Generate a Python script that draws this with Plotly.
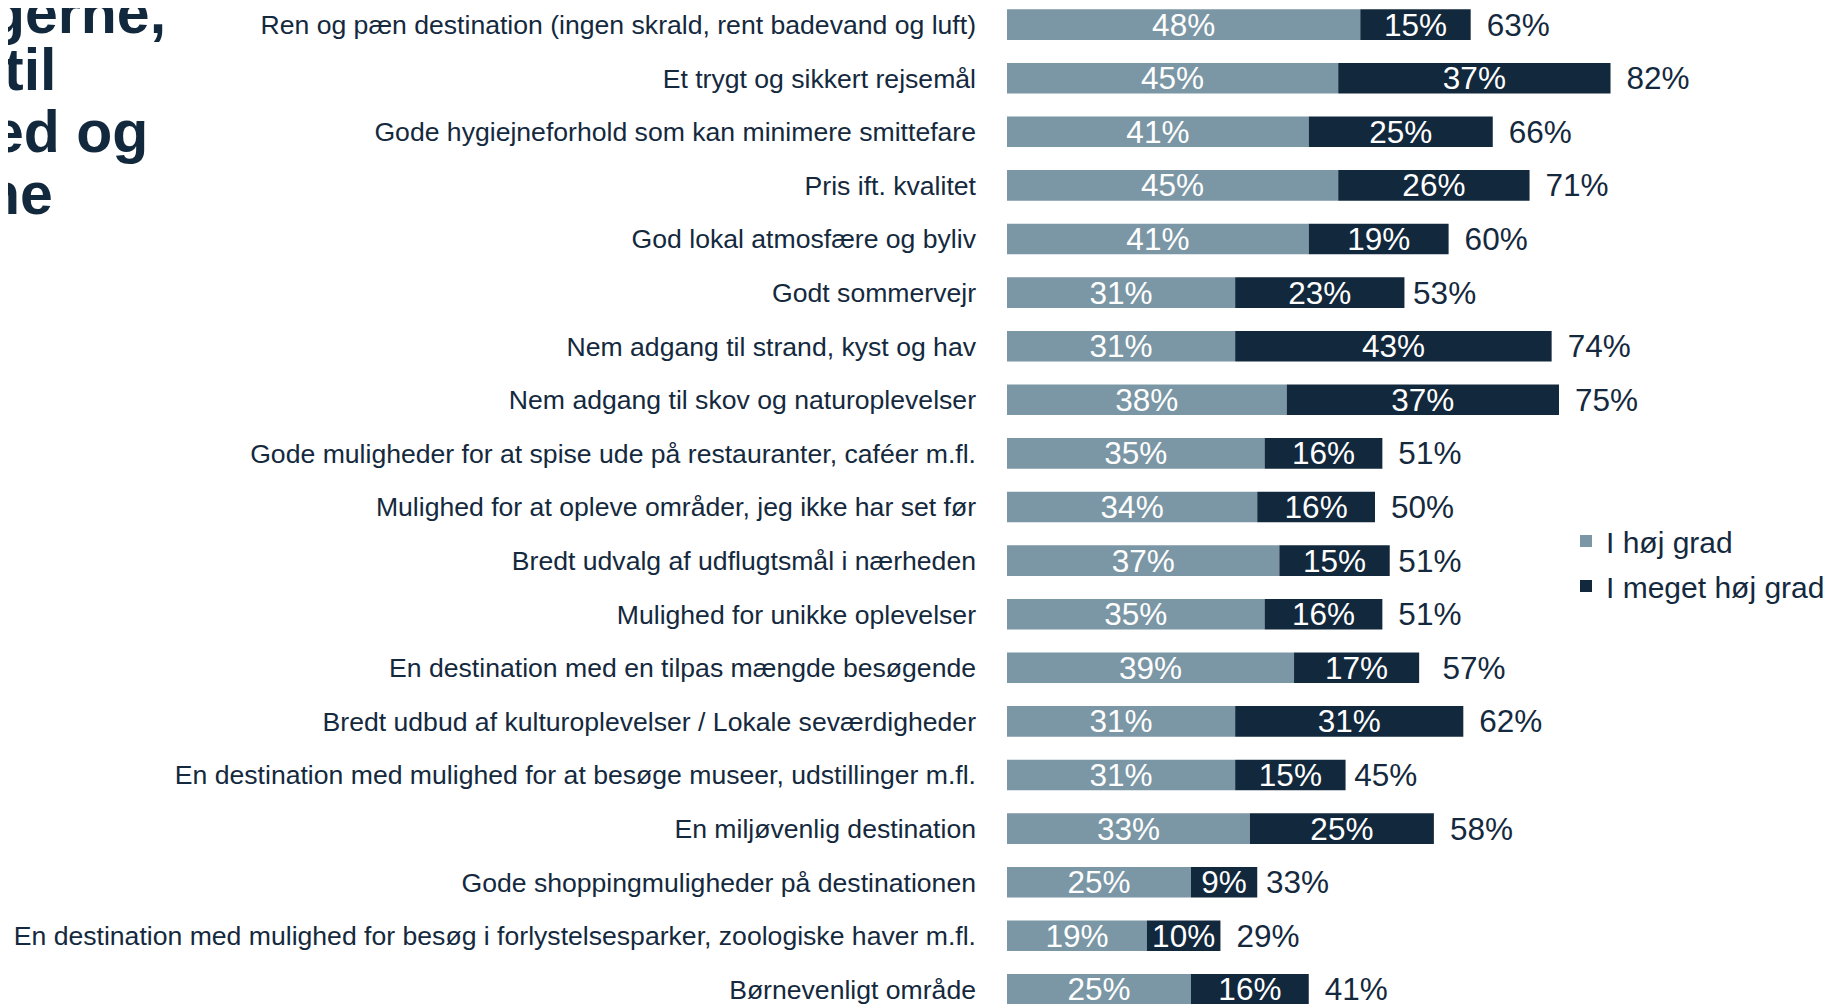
import plotly.graph_objects as go

categories = [
    "Ren og pæn destination (ingen skrald, rent badevand og luft)",
    "Et trygt og sikkert rejsemål",
    "Gode hygiejneforhold som kan minimere smittefare",
    "Pris ift. kvalitet",
    "God lokal atmosfære og byliv",
    "Godt sommervejr",
    "Nem adgang til strand, kyst og hav",
    "Nem adgang til skov og naturoplevelser",
    "Gode muligheder for at spise ude på restauranter, caféer m.fl.",
    "Mulighed for at opleve områder, jeg ikke har set før",
    "Bredt udvalg af udflugtsmål i nærheden",
    "Mulighed for unikke oplevelser",
    "En destination med en tilpas mængde besøgende",
    "Bredt udbud af kulturoplevelser / Lokale seværdigheder",
    "En destination med mulighed for at besøge museer, udstillinger m.fl.",
    "En miljøvenlig destination",
    "Gode shoppingmuligheder på destinationen",
    "En destination med mulighed for besøg i forlystelsesparker, zoologiske haver m.fl.",
    "Børnevenligt område",
]
hoj_grad = [48, 45, 41, 45, 41, 31, 31, 38, 35, 34, 37, 35, 39, 31, 31, 33, 25, 19, 25]
meget_hoj_grad = [15, 37, 25, 26, 19, 23, 43, 37, 16, 16, 15, 16, 17, 31, 15, 25, 9, 10, 16]
totals = [63, 82, 66, 71, 60, 53, 74, 75, 51, 50, 51, 51, 57, 62, 45, 58, 33, 29, 41]
title_lines = ["gerne,", "til", "ed og", "ne"]

# page is offset by the default 8px body margin
OFF = 8
W, H = 1840 - OFF, 1004 - OFF
LEFT = 1007 - OFF
PX_PER_PCT = 7.36
ROW = 53.6
ROW0 = 24.6 - OFF

LIGHT = "#7B97A5"
DARK = "#12283C"
TEXT = "#14293E"
FONT = "Liberation Sans, Arial, sans-serif"

pct = lambda v: [f"{x}%" for x in v]
spacer_w = 13 / PX_PER_PCT
VAL_SIZE = 31.5

fig = go.Figure()
fig.add_trace(go.Bar(
    y=categories, x=hoj_grad, base=[0] * len(hoj_grad), orientation="h",
    name="I høj grad", marker=dict(color=LIGHT, line=dict(width=0)),
    text=pct(hoj_grad), textposition="inside", insidetextanchor="middle",
    textfont=dict(color="white", size=VAL_SIZE, family=FONT), constraintext="none",
    width=0.57, legendgroup="a",
))
fig.add_trace(go.Bar(
    y=categories, x=meget_hoj_grad, base=hoj_grad, orientation="h",
    name="I meget høj grad", marker=dict(color=DARK, line=dict(width=0)),
    text=pct(meget_hoj_grad), textposition="inside", insidetextanchor="middle",
    textfont=dict(color="white", size=VAL_SIZE, family=FONT), constraintext="none",
    width=0.57, legendgroup="b",
))
fig.add_trace(go.Bar(
    y=categories, x=[spacer_w] * len(totals), base=totals, orientation="h",
    marker=dict(color="rgba(0,0,0,0)", line=dict(width=0)),
    text=pct(totals), textposition="outside",
    textfont=dict(color=TEXT, size=VAL_SIZE, family=FONT), constraintext="none",
    width=0.57, showlegend=False, hoverinfo="skip", cliponaxis=False,
))

plot_w = W - LEFT
top_val = -ROW0 / ROW
bot_val = top_val + H / ROW


def px(xp):
    return (xp - OFF - LEFT) / plot_w


def py(yp):
    return 1 - (yp - OFF) / H


fig.update_layout(
    width=W, height=H,
    margin=dict(l=LEFT, r=0, t=0, b=0, autoexpand=False),
    barmode="overlay",
    paper_bgcolor="white", plot_bgcolor="white",
    font=dict(family=FONT, color=TEXT),
    showlegend=True,
    legend=dict(
        x=px(1566), y=py(515), xanchor="left", yanchor="top",
        font=dict(size=30, color=TEXT, family=FONT), traceorder="grouped",
        tracegroupgap=3, bgcolor="rgba(0,0,0,0)",
    ),
    uniformtext=dict(mode="show", minsize=10),
    xaxis=dict(range=[0, plot_w / PX_PER_PCT], visible=False, fixedrange=True),
    yaxis=dict(
        type="category", categoryorder="array", categoryarray=categories,
        range=[bot_val, top_val], showgrid=False, zeroline=False, showline=False,
        ticks="", ticklabelstandoff=30,
        tickfont=dict(size=26.6, color=TEXT, family=FONT),
    ),
)

# title fragments (cut off at left in the reference)
title_pos = [(168, 13), (58, 70), (150, 132), (55, 194)]
for txt, (xr, yc) in zip(title_lines, title_pos):
    fig.add_annotation(
        text=f"<b>{txt}</b>", xref="paper", yref="paper",
        x=px(xr), y=py(yc),
        xanchor="right", yanchor="middle", showarrow=False,
        font=dict(size=59, color=DARK, family=FONT),
    )

fig.write_html("out.html")
